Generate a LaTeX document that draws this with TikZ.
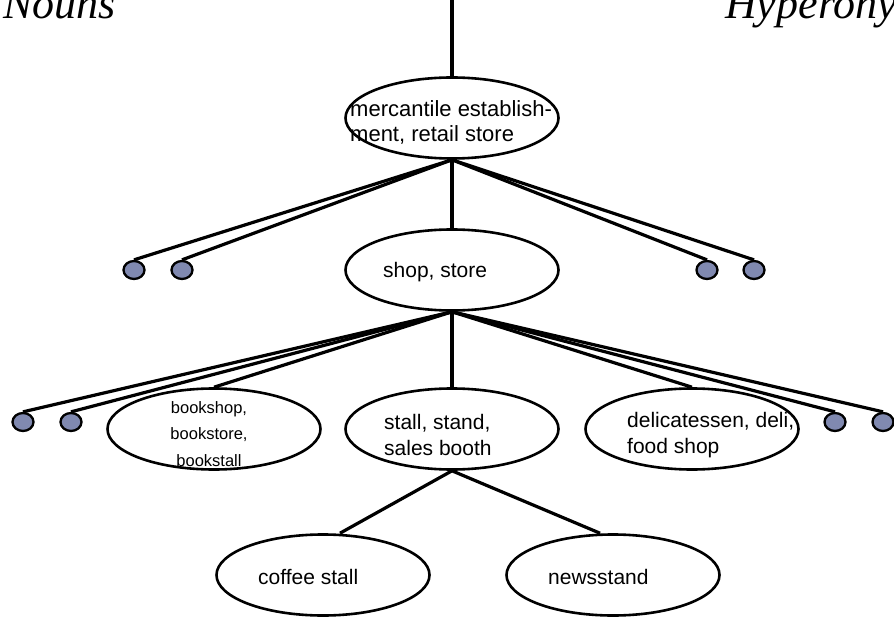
\documentclass[tikz,border=0pt]{standalone}
\usepackage{fontspec}
\setmainfont{Liberation Serif}
\setsansfont{Liberation Sans}
\usetikzlibrary{shapes.geometric}
\definecolor{dotblue}{RGB}{128,137,176}

\begin{document}
\begin{tikzpicture}[x=1pt, y=-1pt,
  oval/.style={draw, ellipse, line width=2.6pt, inner sep=0pt, minimum width=213pt, minimum height=81pt, fill=white},
  dot/.style={draw, ellipse, line width=2.3pt, inner sep=0pt, minimum width=21pt, minimum height=18pt, fill=dotblue},
  txt/.style={font=\sffamily\fontsize{21}{26}\selectfont, align=left, inner sep=0pt, anchor=west},
  small/.style={font=\sffamily\fontsize{16.5}{26.5}\selectfont, align=center, inner sep=0pt},
  title/.style={font=\itshape\fontsize{44}{44}\selectfont, inner sep=0pt, anchor=base west},
  edge/.style={line width=3.2pt}
]
\useasboundingbox (0,0) rectangle (894,617);
\clip (0,0) rectangle (894,617);

\node[title] (nouns) at (3,19) {Nouns};
\node[title] (hyper) at (725,19) {Hyperony};

% the tree
\coordinate (root) at (452,-4);
\node[oval] (top) at (452,118) {};
\node[oval] (shop) at (452,270) {};
\node[oval] (stall) at (452,429) {};
\node[oval] (book) at (214,429) {};
\node[oval] (deli) at (692,429) {};
\node[oval] (coffee) at (323,575) {};
\node[oval] (news) at (613,575) {};

\node[dot] (a1) at (134,270) {};
\node[dot] (a2) at (182,270) {};
\node[dot] (a3) at (707,270) {};
\node[dot] (a4) at (754,270) {};
\node[dot] (b1) at (23,422) {};
\node[dot] (b2) at (71,422) {};
\node[dot] (b3) at (835,422) {};
\node[dot] (b4) at (883,422) {};

% labels
\node[txt, font=\sffamily\fontsize{22}{25}\selectfont] (toptxt) at (350,122) {mercantile establish-\\ment, retail store};
\node[txt] (shoptxt) at (383,272) {shop, store};
\node[txt] (stalltxt) at (384,435) {stall, stand,\\sales booth};
\node[txt] (delitxt) at (627,435) {delicatessen, deli,\\food shop};
\node[small] (booktxt) at (209,434) {bookshop,\\bookstore,\\bookstall};
\node[txt] (coffeetxt) at (258,577) {coffee stall};
\node[txt] (newstxt) at (548,577) {newsstand};

\draw[edge] (root) -- (top.north);
\draw[edge] (top.south) -- (shop.north);
\draw[edge] (top.south) -- (a1.north);
\draw[edge] (top.south) -- (a2.north);
\draw[edge] (top.south) -- (a3.north);
\draw[edge] (top.south) -- (a4.north);
\draw[edge] (shop.south) -- (stall.north);
\draw[edge] (shop.south) -- (book.north);
\draw[edge] (shop.south) -- (deli.north);
\draw[edge] (shop.south) -- (b1.north);
\draw[edge] (shop.south) -- (b2.north);
\draw[edge] (shop.south) -- (b3.north);
\draw[edge] (shop.south) -- (b4.north);
\draw[edge] (stall.south) -- ([xshift=17]coffee.north);
\draw[edge] (stall.south) -- ([xshift=-13]news.north);
\end{tikzpicture}
\end{document}
